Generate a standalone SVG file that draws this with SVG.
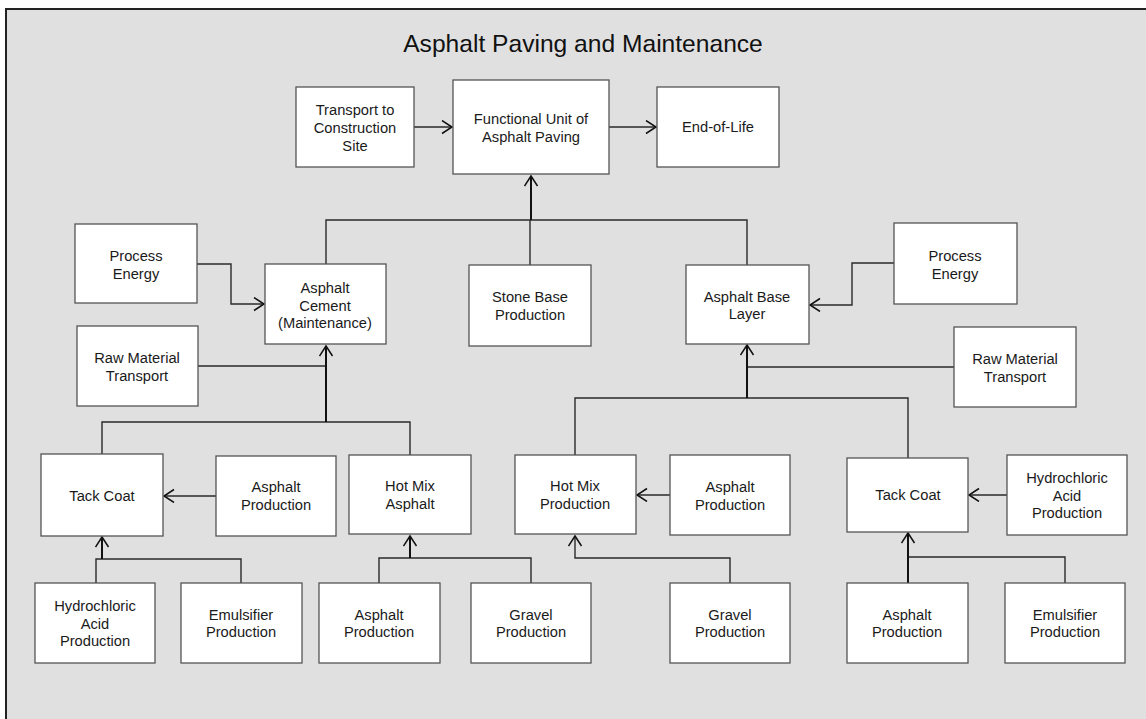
<svg xmlns="http://www.w3.org/2000/svg" width="1146" height="719" viewBox="0 0 1146 719">
<style>
.bg{fill:#e0e0e0;stroke:#222;stroke-width:2}
.box{fill:#fff;stroke:#555;stroke-width:1.3}
.t{font-family:"Liberation Sans",Arial,sans-serif;font-size:14.7px;fill:#1a1a1a;text-anchor:middle}
.title{font-family:"Liberation Sans",Arial,sans-serif;font-size:24.6px;fill:#111;text-anchor:middle}
.c{fill:none;stroke:#2a2a2a;stroke-width:1.4}
.ca{fill:none;stroke:#111;stroke-width:2}
</style>
<defs>
<marker id="ah" markerUnits="userSpaceOnUse" markerWidth="14" markerHeight="16" refX="11" refY="7" orient="auto">
<path d="M1,0.5 L11,7 L1,13.5" fill="none" stroke="#111" stroke-width="1.5"/>
</marker>
</defs>
<rect class="bg" x="6" y="9" width="1150" height="720"/>
<text class="title" x="583" y="52">Asphalt Paving and Maintenance</text>

<g id="connectors">
<path class="c" d="M414,127 H452" marker-end="url(#ah)"/>
<path class="c" d="M609,127 H656" marker-end="url(#ah)"/>
<path class="c" d="M326,264 V220 H747 V265"/>
<path class="c" d="M530,265 V220"/>
<path class="ca" d="M531,220 V176" marker-end="url(#ah)"/>
<path class="c" d="M197,264 H231 V304 H264" marker-end="url(#ah)"/>
<path class="c" d="M198,366 H326"/>
<path class="c" d="M102,454 V422 H410 V455"/>
<path class="ca" d="M326,422 V346" marker-end="url(#ah)"/>
<path class="c" d="M216,496 H164" marker-end="url(#ah)"/>
<path class="c" d="M96,583 V559 H241 V583"/>
<path class="ca" d="M102,559 V537" marker-end="url(#ah)"/>
<path class="c" d="M379,583 V558 H531 V583"/>
<path class="ca" d="M410,558 V536" marker-end="url(#ah)"/>
<path class="c" d="M894,263 H852 V305 H810" marker-end="url(#ah)"/>
<path class="c" d="M954,367 H747"/>
<path class="c" d="M575,455 V398 H908 V458"/>
<path class="ca" d="M747,398 V345" marker-end="url(#ah)"/>
<path class="c" d="M670,495 H637" marker-end="url(#ah)"/>
<path class="c" d="M730,583 V558 H575 V536" marker-end="url(#ah)"/>
<path class="c" d="M1007,495 H969" marker-end="url(#ah)"/>
<path class="c" d="M1065,583 V557 H908"/>
<path class="ca" d="M908,583 V533" marker-end="url(#ah)"/>
</g>

<g id="transport-site"><rect class="box" x="296" y="87" width="118" height="80"/>
<text class="t" x="355" y="115">Transport to</text><text class="t" x="355" y="133">Construction</text><text class="t" x="355" y="151">Site</text></g>
<g id="functional-unit"><rect class="box" x="453" y="80" width="156" height="94"/>
<text class="t" x="531" y="124">Functional Unit of</text><text class="t" x="531" y="142">Asphalt Paving</text></g>
<g id="end-of-life"><rect class="box" x="657" y="87" width="122" height="80"/>
<text class="t" x="718" y="132">End-of-Life</text></g>

<g id="process-energy-l"><rect class="box" x="75" y="224" width="122" height="79"/>
<text class="t" x="136" y="261">Process</text><text class="t" x="136" y="279">Energy</text></g>
<g id="asphalt-cement"><rect class="box" x="265" y="264" width="121" height="80"/>
<text class="t" x="325" y="293">Asphalt</text><text class="t" x="325" y="311">Cement</text><text class="t" x="325" y="328">(Maintenance)</text></g>
<g id="raw-material-l"><rect class="box" x="77" y="326" width="121" height="80"/>
<text class="t" x="137" y="363">Raw Material</text><text class="t" x="137" y="381">Transport</text></g>
<g id="stone-base"><rect class="box" x="469" y="265" width="122" height="81"/>
<text class="t" x="530" y="302">Stone Base</text><text class="t" x="530" y="320">Production</text></g>
<g id="asphalt-base"><rect class="box" x="686" y="265" width="123" height="79"/>
<text class="t" x="747" y="302">Asphalt Base</text><text class="t" x="747" y="319">Layer</text></g>
<g id="process-energy-r"><rect class="box" x="894" y="223" width="123" height="81"/>
<text class="t" x="955" y="261">Process</text><text class="t" x="955" y="279">Energy</text></g>
<g id="raw-material-r"><rect class="box" x="954" y="327" width="122" height="80"/>
<text class="t" x="1015" y="364">Raw Material</text><text class="t" x="1015" y="382">Transport</text></g>

<g id="tack-coat-l"><rect class="box" x="41" y="454" width="122" height="82"/>
<text class="t" x="102" y="501">Tack Coat</text></g>
<g id="asphalt-prod-1"><rect class="box" x="216" y="456" width="120" height="80"/>
<text class="t" x="276" y="492">Asphalt</text><text class="t" x="276" y="510">Production</text></g>
<g id="hot-mix-asphalt"><rect class="box" x="349" y="455" width="122" height="79"/>
<text class="t" x="410" y="491">Hot Mix</text><text class="t" x="410" y="509">Asphalt</text></g>
<g id="hot-mix-prod"><rect class="box" x="515" y="455" width="121" height="79"/>
<text class="t" x="575" y="491">Hot Mix</text><text class="t" x="575" y="509">Production</text></g>
<g id="asphalt-prod-2"><rect class="box" x="670" y="455" width="120" height="80"/>
<text class="t" x="730" y="492">Asphalt</text><text class="t" x="730" y="510">Production</text></g>
<g id="tack-coat-r"><rect class="box" x="847" y="458" width="121" height="74"/>
<text class="t" x="908" y="500">Tack Coat</text></g>
<g id="hcl-r"><rect class="box" x="1007" y="455" width="120" height="80"/>
<text class="t" x="1067" y="483">Hydrochloric</text><text class="t" x="1067" y="501">Acid</text><text class="t" x="1067" y="518">Production</text></g>

<g id="hcl-l"><rect class="box" x="35" y="583" width="120" height="80"/>
<text class="t" x="95" y="611">Hydrochloric</text><text class="t" x="95" y="629">Acid</text><text class="t" x="95" y="646">Production</text></g>
<g id="emulsifier-l"><rect class="box" x="181" y="583" width="121" height="80"/>
<text class="t" x="241" y="620">Emulsifier</text><text class="t" x="241" y="637">Production</text></g>
<g id="asphalt-prod-3"><rect class="box" x="319" y="583" width="121" height="80"/>
<text class="t" x="379" y="620">Asphalt</text><text class="t" x="379" y="637">Production</text></g>
<g id="gravel-1"><rect class="box" x="471" y="583" width="120" height="80"/>
<text class="t" x="531" y="620">Gravel</text><text class="t" x="531" y="637">Production</text></g>
<g id="gravel-2"><rect class="box" x="670" y="583" width="120" height="80"/>
<text class="t" x="730" y="620">Gravel</text><text class="t" x="730" y="637">Production</text></g>
<g id="asphalt-prod-4"><rect class="box" x="847" y="583" width="121" height="80"/>
<text class="t" x="907" y="620">Asphalt</text><text class="t" x="907" y="637">Production</text></g>
<g id="emulsifier-r"><rect class="box" x="1005" y="583" width="120" height="80"/>
<text class="t" x="1065" y="620">Emulsifier</text><text class="t" x="1065" y="637">Production</text></g>
</svg>
